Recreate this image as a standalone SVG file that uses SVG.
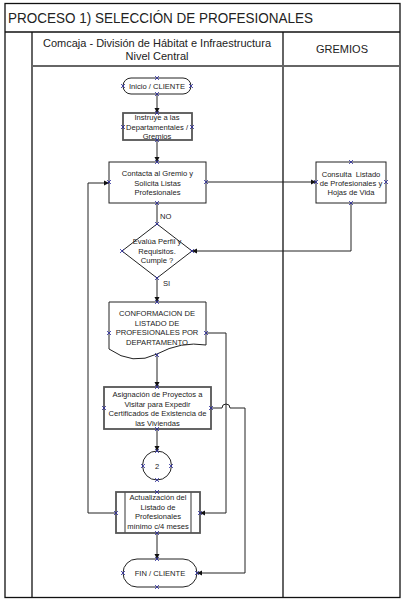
<svg xmlns="http://www.w3.org/2000/svg" xmlns:xlink="http://www.w3.org/1999/xlink" width="405" height="604" viewBox="0 0 405 604">
<style>
text{font-family:"Liberation Sans",Arial,sans-serif;fill:#222;}
.t{font-size:7.6px;text-anchor:middle;}
.lane{fill:none;stroke:#111;stroke-width:1.3;}
.shape{fill:#fff;stroke:#222;stroke-width:1;}
.gshape{fill:#fff;stroke:#555;stroke-width:1.8;}
.conn{fill:none;stroke:#222;stroke-width:1;}
.cp{fill:none;stroke:#2a2a9a;stroke-width:0.8;}
</style>
<defs>
<marker id="arr" markerWidth="6" markerHeight="6" refX="5" refY="3" orient="auto" markerUnits="userSpaceOnUse">
<path d="M0,0.5 L5,3 L0,5.5 Z" fill="#111"/>
</marker>
<path id="x" class="cp" d="M-2,-2 L2,2 M-2,2 L2,-2"/>
</defs>
<rect width="405" height="604" fill="#fff"/>
<g id="frame">
<rect x="5" y="3.5" width="395" height="594" class="lane"/>
<line x1="5" y1="32" x2="400" y2="32" class="lane"/>
<line x1="32" y1="32" x2="32" y2="597.5" class="lane"/>
<line x1="283" y1="32" x2="283" y2="597.5" class="lane"/>
<line x1="32" y1="66" x2="400" y2="66" stroke="#666" stroke-width="1.8"/>
<text x="8" y="23" font-size="14" textLength="305" lengthAdjust="spacingAndGlyphs">PROCESO 1) SELECCIÓN DE PROFESIONALES</text>
<text x="157" y="47" font-size="11" text-anchor="middle">Comcaja - División de Hábitat e Infraestructura</text>
<text x="157" y="60" font-size="11" text-anchor="middle">Nivel Central</text>
<text x="342" y="53" font-size="11" text-anchor="middle">GREMIOS</text>
</g>
<g id="connectors">
<line x1="157" y1="94" x2="157" y2="113" class="conn" marker-end="url(#arr)"/>
<line x1="157" y1="140" x2="157" y2="162" class="conn" marker-end="url(#arr)"/>
<line x1="157" y1="203" x2="157" y2="224" class="conn"/>
<line x1="206" y1="182" x2="316" y2="182" class="conn" marker-end="url(#arr)"/>
<polyline points="351,203 351,251 192,251" class="conn" marker-end="url(#arr)"/>
<line x1="157" y1="278" x2="157" y2="302" class="conn" marker-end="url(#arr)"/>
<line x1="157" y1="355" x2="157" y2="387" class="conn" marker-end="url(#arr)"/>
<line x1="157" y1="429" x2="157" y2="451" class="conn" marker-end="url(#arr)"/>
<line x1="157" y1="533" x2="157" y2="559" class="conn" marker-end="url(#arr)"/>
<polyline points="116,513 88,513 88,183 109,183" class="conn" marker-end="url(#arr)"/>
<polyline points="206,333 226,333 226,513 200,513" class="conn" marker-end="url(#arr)"/>
<path d="M211,408 H222 A4,4 0 0 1 230,408 H245 V573 H197" class="conn" marker-end="url(#arr)"/>
<text x="160" y="219" class="t" style="text-anchor:start">NO</text>
<text x="163" y="286" class="t" style="text-anchor:start">SI</text>
</g>
<g id="inicio">
<rect x="123" y="78" width="68" height="16" rx="8" class="shape"/>
<text x="157" y="89" class="t">Inicio / CLIENTE</text>
</g>
<g id="instruye">
<rect x="123" y="113" width="69" height="27" class="gshape"/>
<text x="157" y="120" class="t">Instruye a las</text>
<text x="157" y="129.5" class="t">Departamentales /</text>
<text x="157" y="139" class="t">Gremios</text>
</g>
<g id="contacta">
<rect x="109" y="162" width="97" height="41" class="shape"/>
<text x="157.5" y="176" class="t">Contacta al Gremio y</text>
<text x="157.5" y="185.5" class="t">Solicita Listas</text>
<text x="157.5" y="195" class="t">Profesionales</text>
</g>
<g id="evalua">
<polygon points="157,224 192,251 157,278 122,251" class="shape"/>
<text x="157" y="244" class="t">Evalúa Perfil y</text>
<text x="157" y="253.5" class="t">Requisitos.</text>
<text x="157" y="263" class="t">Cumple ?</text>
</g>
<g id="consulta">
<rect x="316" y="162" width="70" height="41" class="shape" stroke="#444"/>
<text x="351" y="177" class="t" xml:space="preserve" style="white-space:pre">Consulta  Listado</text>
<text x="351" y="186" class="t">de Profesionales y</text>
<text x="351" y="195" class="t">Hojas de Vida</text>
</g>
<g id="conformacion">
<path d="M109,302 H206 V345 Q181,341 157,354 Q133,366 109,349 Z" class="shape"/>
<text x="157" y="316" class="t">CONFORMACION DE</text>
<text x="157" y="325.5" class="t">LISTADO DE</text>
<text x="157" y="335" class="t">PROFESIONALES POR</text>
<text x="157" y="344.5" class="t">DEPARTAMENTO</text>
</g>
<g id="asignacion">
<rect x="104" y="387" width="107" height="42" class="gshape"/>
<text x="157.5" y="397" class="t">Asignación de Proyectos a</text>
<text x="157.5" y="406.5" class="t">Visitar para Expedir</text>
<text x="157.5" y="416" class="t">Certificados de Existencia de</text>
<text x="157.5" y="425.5" class="t">las Viviendas</text>
</g>
<g id="conector2">
<circle cx="157" cy="465.5" r="14.5" class="shape"/>
<text x="157" y="469" class="t">2</text>
</g>
<g id="actualizacion">
<rect x="116" y="492" width="84" height="41" class="gshape"/>
<line x1="125" y1="492" x2="125" y2="533" stroke="#555" stroke-width="1.2"/>
<line x1="191" y1="492" x2="191" y2="533" stroke="#555" stroke-width="1.2"/>
<text x="158" y="500" class="t">Actualización del</text>
<text x="158" y="509.5" class="t">Listado de</text>
<text x="158" y="519" class="t">Profesionales</text>
<text x="158" y="528.5" class="t">mínimo c/4 meses</text>
</g>
<g id="fin">
<rect x="123" y="559" width="74" height="28" rx="14" class="shape"/>
<text x="160" y="576" class="t" font-size="8">FIN / CLIENTE</text>
</g>
<g id="connection-points">
<use xlink:href="#x" x="157" y="78"/><use xlink:href="#x" x="157" y="94"/><use xlink:href="#x" x="123" y="86"/><use xlink:href="#x" x="191" y="86"/>
<use xlink:href="#x" x="157" y="113"/><use xlink:href="#x" x="157" y="140"/><use xlink:href="#x" x="123" y="127"/><use xlink:href="#x" x="192" y="127"/>
<use xlink:href="#x" x="157" y="162"/><use xlink:href="#x" x="157" y="203"/><use xlink:href="#x" x="109" y="182"/><use xlink:href="#x" x="206" y="182"/>
<use xlink:href="#x" x="157" y="224"/><use xlink:href="#x" x="157" y="278"/><use xlink:href="#x" x="122" y="251"/><use xlink:href="#x" x="192" y="251"/>
<use xlink:href="#x" x="351" y="162"/><use xlink:href="#x" x="351" y="203"/><use xlink:href="#x" x="316" y="182"/><use xlink:href="#x" x="386" y="182"/>
<use xlink:href="#x" x="157" y="302"/><use xlink:href="#x" x="157" y="355"/><use xlink:href="#x" x="109" y="333"/><use xlink:href="#x" x="206" y="333"/>
<use xlink:href="#x" x="157" y="387"/><use xlink:href="#x" x="157" y="429"/><use xlink:href="#x" x="104" y="408"/><use xlink:href="#x" x="211" y="408"/>
<use xlink:href="#x" x="157" y="451"/><use xlink:href="#x" x="157" y="480"/><use xlink:href="#x" x="143" y="466"/><use xlink:href="#x" x="171" y="466"/>
<use xlink:href="#x" x="157" y="492"/><use xlink:href="#x" x="157" y="533"/><use xlink:href="#x" x="116" y="513"/><use xlink:href="#x" x="200" y="513"/>
<use xlink:href="#x" x="157" y="559"/><use xlink:href="#x" x="157" y="587"/><use xlink:href="#x" x="123" y="573"/><use xlink:href="#x" x="197" y="573"/>
</g>
</svg>
